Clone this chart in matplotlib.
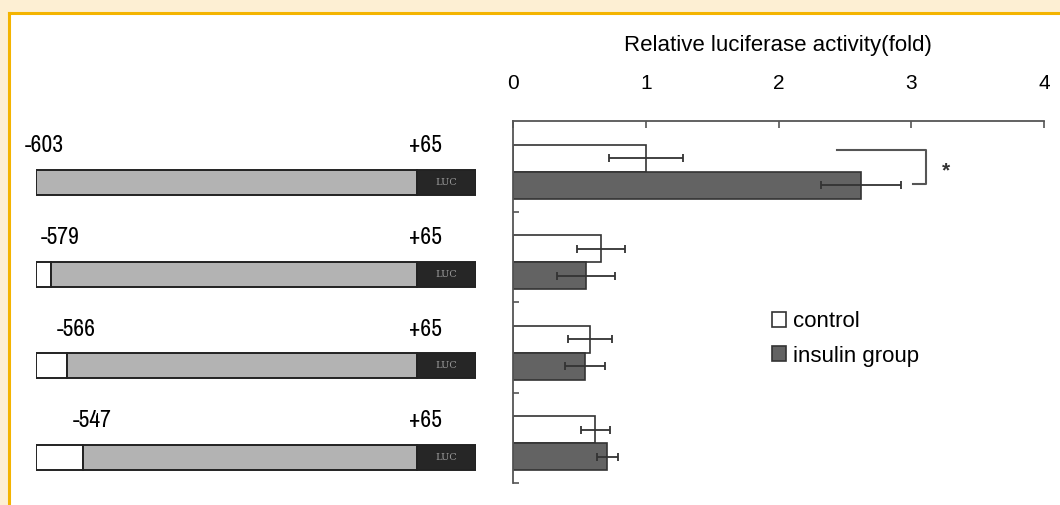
import matplotlib.pyplot as plt
from matplotlib.patches import Rectangle
from matplotlib.lines import Line2D

# data
constructs = ['-603', '-579', '-566', '-547']
end_label = '+65'
control = [1.00, 0.66, 0.58, 0.62]
control_err = [0.28, 0.18, 0.165, 0.11]
insulin = [2.62, 0.55, 0.54, 0.71]
insulin_err = [0.30, 0.22, 0.15, 0.08]
xticks = [0, 1, 2, 3, 4]

W, H = 1060, 505
fig = plt.figure(figsize=(W / 100, H / 100), dpi=100)
fig.patch.set_facecolor('#fdefd3')

def px(x0, y0, x1, y1):
    # pixel box (top-left origin) -> figure fraction rect
    return [x0 / W, 1 - y1 / H, (x1 - x0) / W, (y1 - y0) / H]

# white panel with gold frame on top and left
fig.add_artist(Rectangle((9 / W, 0), 1, 1 - 13 / H, transform=fig.transFigure,
                         facecolor='white', edgecolor='none', zorder=0))
fig.add_artist(Line2D([9 / W, 1], [1 - 13 / H, 1 - 13 / H], transform=fig.transFigure,
                      color='#f4b400', lw=2.2))
fig.add_artist(Line2D([9 / W, 9 / W], [0, 1 - 13 / H], transform=fig.transFigure,
                      color='#f4b400', lw=2.2))

narrow = ['Archivo Narrow', 'Roboto Condensed', 'DejaVu Sans']
sans = ['Liberation Sans', 'DejaVu Sans']

# ---- left: promoter constructs ----
axl = fig.add_axes(px(35.5, 136.5, 476, 503.5))
axl.set_xlim(0, 1)
axl.set_ylim(3.5, -0.5)
axl.axis('off')
luc_start = 0.865
white_len = [0.0, 0.035, 0.0715, 0.108]
bh = 0.27
off = 9 / 440.5
for i, lab in enumerate(constructs):
    w = white_len[i]
    if w > 0:
        axl.barh(i, w, left=0, height=bh, color='white', edgecolor='#222222', lw=1.4)
    axl.barh(i, luc_start - w, left=w, height=bh, color='#b3b3b3', edgecolor='#222222', lw=1.4)
    axl.barh(i, 1 - luc_start, left=luc_start, height=bh, color='#262626', edgecolor='#222222', lw=1.4)
    axl.text((1 + luc_start) / 2, i, 'LUC', ha='center', va='center', fontsize=7,
             color='#9a9a9a', family='DejaVu Serif')
    axl.text(w + off, i - 0.40, lab, ha='center', va='center', fontsize=17,
             family=narrow, fontweight='semibold', color='black')
    axl.text(luc_start + off, i - 0.40, end_label, ha='center', va='center', fontsize=17,
             family=narrow, fontweight='semibold', color='black')

# ---- right: luciferase activity ----
ax = fig.add_axes(px(513, 121, 1044, 483))
ax.patch.set_alpha(0)
ypos = range(len(control))
yc = [y + 0.41 for y in ypos]
yi = [y + 0.71 for y in ypos]
ekw = dict(ecolor='#333333', elinewidth=1.3, capsize=3, capthick=1.3)
b1 = ax.barh(yc, control, height=0.30, xerr=control_err, color='white',
             edgecolor='#333333', lw=1.2, error_kw=ekw, label='control')
b2 = ax.barh(yi, insulin, height=0.30, xerr=insulin_err, color='#636363',
             edgecolor='#333333', lw=1.2, error_kw=ekw, label='insulin group')
ax.set_xlim(0, 4)
ax.set_ylim(4, 0)
ax.xaxis.tick_top()
ax.set_xticks(xticks)
ax.set_xticklabels([str(t) for t in xticks], fontsize=15, family=sans)
ax.set_yticks([1, 2, 3, 4])
ax.set_yticklabels([])
ax.tick_params(axis='x', direction='in', length=5, width=1.2, color='#555555', pad=20)
ax.tick_params(axis='y', direction='in', length=4, width=1.2, color='#555555')
for s in ['right', 'bottom']:
    ax.spines[s].set_visible(False)
for s in ['top', 'left']:
    ax.spines[s].set_color('#555555')
    ax.spines[s].set_linewidth(1.3)

# significance bracket
ax.plot([2.44, 3.11, 3.11, 3.01], [0.32, 0.32, 0.70, 0.70], color='#555555', lw=1.5,
        clip_on=False)
ax.text(3.26, 0.55, '*', ha='center', va='center', fontsize=15, color='#333333',
        family=sans, fontweight='bold')

fig.text(778 / W, 1 - 45 / H, 'Relative luciferase activity(fold)', ha='center',
         va='center', fontsize=16, family=sans)

ax.legend(handles=[b1, b2], loc='center left', bbox_to_anchor=(772 / W, 1 - 339 / H),
          bbox_transform=fig.transFigure, frameon=False,
          prop={'family': sans, 'size': 16}, handlelength=0.65, handleheight=0.65,
          handletextpad=0.3, labelspacing=0.6, borderpad=0, borderaxespad=0)

fig.savefig('out.png', dpi=100, facecolor=fig.get_facecolor())
